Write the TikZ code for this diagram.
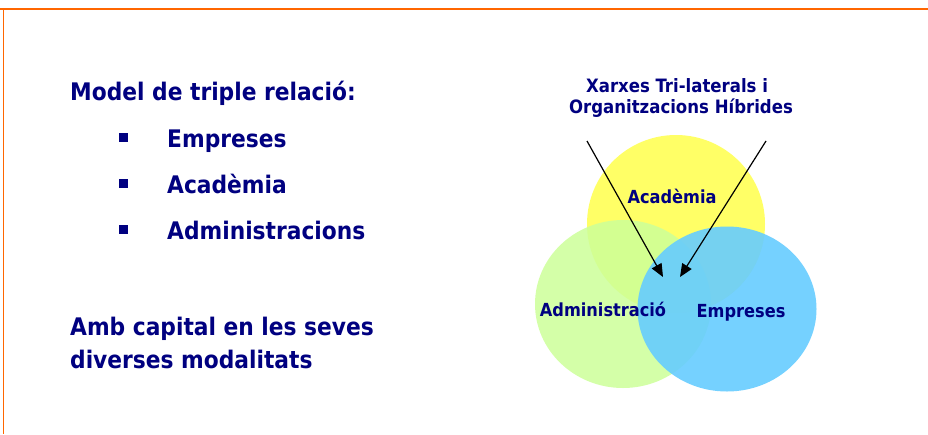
\documentclass[tikz,border=0pt]{standalone}
\usepackage{fontspec}
\setmainfont{DejaVu Sans Condensed}
\usetikzlibrary{arrows.meta}
\definecolor{navy}{HTML}{000080}
\definecolor{framecol}{HTML}{FF6600}
\definecolor{academy}{HTML}{FFFF66}
\definecolor{admin}{HTML}{CCFF99}
\definecolor{firms}{HTML}{66CCFF}
\tikzset{
  bigtext/.style={anchor=base west, inner sep=0pt, text=navy, font=\fontsize{24.2}{29}\selectfont\bfseries},
  circtext/.style={anchor=base, inner sep=0pt, text=navy, font=\fontsize{18}{22}\selectfont\bfseries},
  titletext/.style={circtext, font=\fontsize{18.4}{22}\selectfont\bfseries},
  bullet/.style={fill=navy, minimum size=9pt, inner sep=0pt},
  pointer/.style={line width=1.2pt, -{Triangle[length=13pt, width=11pt]}}
}
\begin{document}
\begin{tikzpicture}[x=1pt, y=-1pt]
  \useasboundingbox (0,0) rectangle (928,434);
  % frame
  \draw[framecol, line width=2pt] (0,9) -- (928,9);
  \draw[framecol, line width=1pt] (3,9) -- (3,434);

  % left column
  \def\listx{167}
  \def\bulletx{123.5}
  \node[bigtext] (model) at (70,100) {Model de triple relació:};
  \foreach \name/\txt/\yy in {emp/Empreses/147, aca/Acadèmia/193, adm/Administracions/239} {
    \node[bigtext] (\name) at (\listx,\yy) {\txt};
    \node[bullet] (\name-b) at (\bulletx,\yy-9.5) {};
  }
  \node[bigtext] (capital1) at (70,335) {Amb capital en les seves};
  \node[bigtext] (capital2) at (70,368) {diverses modalitats};

  % circles
  \fill[academy] (676,224) circle (89);
  \fill[admin, opacity=0.85] (623,304) ellipse (88 and 84);
  \fill[firms, opacity=0.9] (727,309) ellipse (89.5 and 82.5);

  \node[circtext] (academia) at (672,203) {Acadèmia};
  \node[circtext] (administracio) at (603,316) {Administració};
  \node[circtext] (empreses) at (741,317) {Empreses};

  % title and pointers
  \node[titletext] (title1) at (677,92) {Xarxes Tri-laterals i};
  \node[titletext] (title2) at (681,113) {Organitzacions Híbrides};
  \coordinate (leftstart) at (587,141);
  \coordinate (leftend) at (663,277);
  \coordinate (rightstart) at (766,141);
  \coordinate (rightend) at (680,277);
  \draw[pointer] (leftstart) -- (leftend);
  \draw[pointer] (rightstart) -- (rightend);
\end{tikzpicture}
\end{document}
